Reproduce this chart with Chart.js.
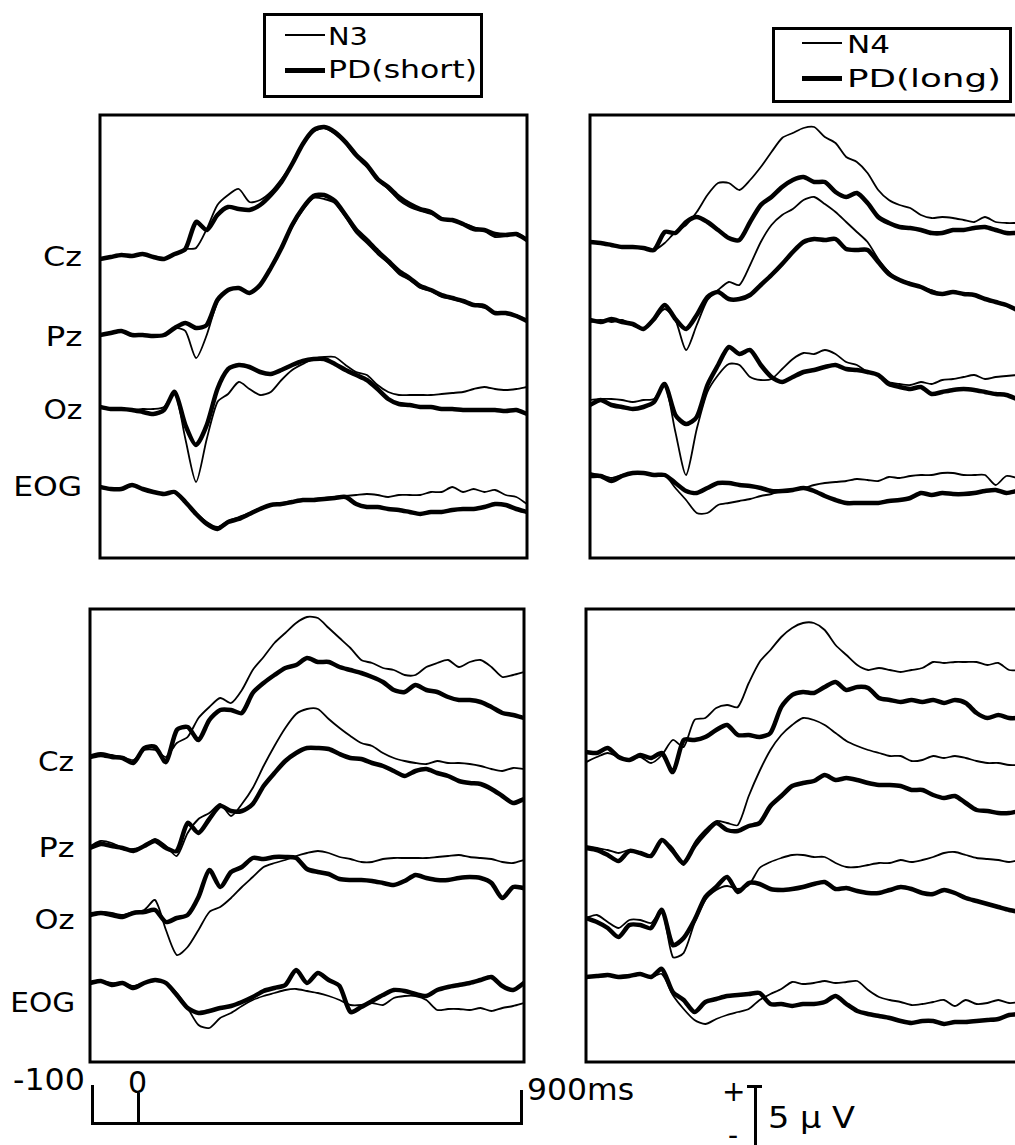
<!DOCTYPE html>
<html>
<head>
<meta charset="utf-8">
<script src="https://cdn.jsdelivr.net/npm/chart.js@4/dist/chart.umd.min.js"></script>
<style>
html, body { margin: 0; padding: 0; background: #fff; }
body { width: 1015px; height: 1145px; overflow: hidden; position: relative; font-family: "DejaVu Sans", sans-serif; color: #000; }
canvas { position: absolute; }
.t { position: absolute; white-space: nowrap; line-height: 1; }
.lab { font-size: 27px; transform-origin: right center; }
.num { font-size: 30px; transform-origin: left center; }
.leg { font-size: 25px; transform-origin: left center; }
.ln { position: absolute; background: #000; }
.box { position: absolute; border: 3px solid #000; box-sizing: border-box; }
</style>
</head>
<body>

<!-- legends -->
<div class="box" style="left:263px; top:13px; width:220px; height:85px;"></div>
<div class="ln" style="left:285px; top:34px; width:40px; height:2px;"></div>
<div class="ln" style="left:285px; top:68px; width:40px; height:5px;"></div>
<div class="t leg fit" data-w="40" style="left:328px; top:24px;">N3</div>
<div class="t leg fit" data-w="149" style="left:328px; top:57px;">PD(short)</div>

<div class="box" style="left:772px; top:27px; width:240px; height:76px;"></div>
<div class="ln" style="left:802px; top:42px; width:40px; height:2px;"></div>
<div class="ln" style="left:802px; top:76px; width:40px; height:5px;"></div>
<div class="t leg fit" data-w="43" style="left:847px; top:32px;">N4</div>
<div class="t leg fit" data-w="154" style="left:847px; top:66px;">PD(long)</div>

<!-- channel labels -->
<div class="t lab fit" data-w="39" style="right:933px; top:243px;">Cz</div>
<div class="t lab fit" data-w="37" style="right:933px; top:323px;">Pz</div>
<div class="t lab fit" data-w="39" style="right:933px; top:396px;">Oz</div>
<div class="t lab fit" data-w="69" style="right:933px; top:473px;">EOG</div>
<div class="t lab fit" data-w="36" style="right:941px; top:748px;">Cz</div>
<div class="t lab fit" data-w="36" style="right:941px; top:834px;">Pz</div>
<div class="t lab fit" data-w="40" style="right:941px; top:906px;">Oz</div>
<div class="t lab fit" data-w="65" style="right:940px; top:989px;">EOG</div>

<!-- time bar -->
<div class="t num fit" data-w="72" style="left:13px; top:1065px;">-100</div>
<div class="t num" style="left:128px; top:1068px;">0</div>
<div class="t num fit" data-w="107" style="left:527px; top:1075px;">900ms</div>
<div class="ln" style="left:91px; top:1085px; width:3px; height:40px;"></div>
<div class="ln" style="left:91px; top:1122px; width:432px; height:3px;"></div>
<div class="ln" style="left:520px; top:1090px; width:3px; height:35px;"></div>
<div class="ln" style="left:137px; top:1093px; width:3px; height:30px;"></div>

<!-- voltage bar -->
<div class="t" style="left:722px; top:1078px; font-size:28px;">+</div>
<div class="t" style="left:728px; top:1122px; font-size:28px;">-</div>
<div class="ln" style="left:754px; top:1086px; width:3px; height:60px;"></div>
<div class="ln" style="left:747px; top:1085px; width:15px; height:3px;"></div>
<div class="t num fit" data-w="87" style="left:768px; top:1103px;">5 μ V</div>

<script>
// sample times (ms)
const times = [-100, -75, -50, -25, 0, 25, 50, 75, 100, 125, 150, 175, 200, 225, 250, 275, 300, 325, 350, 375,
  400, 425, 450, 475, 500, 525, 550, 575, 600, 625, 650, 675, 700, 725, 750, 775, 800, 825, 850, 875, 900];

// top left: N3 (thin) vs PD short (thick), uV from channel baseline
const tlCzN3 = [-0.2, 0, 0.2, 0.1, 0.3, 0, -0.2, 0.3, 0.8, 0.9, 2.8, 5.2, 6.2, 6.8, 5.5, 5.7, 6.5, 7.8, 9.3, 11.2, 12.5, 12.9, 12.3, 11.3, 10.0, 9.0, 7.7, 6.8, 5.7, 5.0, 4.6, 4.3, 3.9, 3.6, 3.4, 3.0, 2.6, 2.0, 2.1, 2.4, 1.8];
const tlCzPD = [-0.2, 0, 0.2, 0.1, 0.3, 0, -0.2, 0.3, 0.8, 3.5, 2.7, 4.2, 5.0, 4.8, 4.7, 5.2, 6.2, 7.5, 9.3, 11.3, 12.7, 13.0, 12.5, 11.5, 10.2, 9.2, 7.8, 7.0, 6.0, 5.3, 4.8, 4.5, 3.8, 3.7, 3.3, 2.8, 2.7, 2.3, 2.2, 2.3, 1.7];
const tlPzN3 = [-0.2, 0, 0.2, -0.2, -0.2, -0.3, -0.2, 0.5, 0.2, -2.5, -0.2, 3.1, 4.3, 4.5, 4.0, 4.8, 6.4, 8.4, 10.6, 12.3, 13.5, 13.4, 13.0, 11.6, 10.0, 9.0, 7.9, 7.0, 5.9, 5.3, 4.5, 4.2, 3.6, 3.4, 3.1, 2.8, 2.5, 2.1, 1.9, 1.8, 1.3];
const tlPzPD = [-0.2, 0, 0.2, -0.2, -0.2, -0.3, -0.2, 0.5, 1.0, 0.5, 0.8, 3.3, 4.3, 4.5, 4.0, 4.8, 6.5, 8.5, 10.8, 12.5, 13.7, 13.8, 13.2, 11.8, 10.3, 9.3, 8.2, 7.2, 6.2, 5.5, 4.7, 4.3, 3.8, 3.5, 3.2, 2.8, 2.7, 2.0, 2.0, 1.7, 1.2];
const tlOzN3 = [0, -0.2, -0.2, -0.3, -0.2, -0.2, 0, 1.5, -3.2, -7.5, -3.2, 0.5, 1.3, 2.5, 1.8, 1.2, 1.5, 2.7, 3.7, 4.3, 4.8, 5.0, 5.0, 4.2, 3.5, 3.2, 2.2, 1.5, 1.2, 1.2, 1.2, 1.2, 1.3, 1.4, 1.5, 1.8, 2.0, 1.8, 1.7, 1.8, 2.0];
const tlOzPD = [0, -0.2, -0.2, -0.3, -0.5, -0.7, -0.3, 1.5, -1.8, -3.8, -1.8, 1.8, 3.8, 4.2, 4.0, 3.5, 3.3, 3.7, 4.2, 4.6, 4.8, 4.8, 4.3, 3.7, 3.2, 2.7, 1.8, 0.8, 0.3, 0.2, 0, 0, -0.2, -0.2, -0.3, -0.3, -0.3, -0.3, -0.4, -0.3, -0.7];
const tlEogN3 = [0, -0.2, -0.2, 0.2, -0.2, -0.5, -0.7, -0.5, -1.5, -2.6, -3.5, -4.0, -3.4, -3.0, -2.6, -2.1, -1.8, -1.6, -1.4, -1.3, -1.2, -1.1, -1.0, -0.9, -0.8, -0.7, -0.8, -1.0, -0.8, -0.8, -0.8, -0.5, -0.5, 0, -0.5, -0.2, -0.5, -0.3, -0.8, -1.0, -1.7];
const tlEogPD = [0, -0.2, -0.2, 0.2, -0.2, -0.5, -0.7, -0.5, -1.5, -2.7, -3.7, -4.2, -3.5, -3.2, -2.7, -2.2, -1.8, -1.7, -1.5, -1.3, -1.3, -1.2, -1.1, -1.0, -1.7, -2.0, -2.0, -2.2, -2.3, -2.5, -2.7, -2.5, -2.5, -2.3, -2.2, -2.2, -2.0, -1.7, -1.8, -2.2, -2.5];

// top right: N4 (thin) vs PD long (thick)
const trCzN4 = [0.3, 0.2, 0, -0.2, -0.2, -0.3, -0.5, 0.2, 1.3, 2.0, 3.3, 5.0, 6.2, 6.2, 5.5, 6.5, 7.8, 9.3, 10.7, 11.2, 11.7, 11.8, 10.8, 10.2, 8.8, 8.3, 7.2, 5.5, 4.5, 4.0, 3.7, 3.0, 2.7, 2.8, 2.7, 2.5, 2.3, 2.8, 2.3, 2.2, 2.2];
const trCzPD = [0.3, 0.2, 0, -0.2, -0.2, -0.3, -0.5, 1.3, 1.2, 2.3, 2.8, 2.3, 1.5, 0.7, 0.5, 2.3, 4.0, 4.8, 5.8, 6.5, 6.8, 6.3, 6.3, 5.3, 4.8, 5.2, 4.2, 2.8, 2.2, 1.8, 1.7, 1.5, 1.2, 1.2, 1.5, 1.5, 1.7, 1.8, 1.5, 1.2, 1.2];
const trPzN4 = [0, 0.2, 0, 0.2, -0.3, -0.7, 0.2, 1.3, 0.2, -2.8, -0.3, 2.2, 3.2, 4.0, 3.7, 5.7, 8.0, 9.7, 10.7, 11.3, 12.2, 12.5, 11.8, 11.0, 10.0, 9.0, 8.0, 6.3, 5.0, 4.2, 3.9, 3.5, 3.2, 2.8, 3.1, 2.8, 2.8, 2.3, 2.1, 1.7, 1.3];
const trPzPD = [0.2, 0, 0.3, 0, -0.2, -0.7, 0.3, 1.7, 0.3, -0.7, 0.7, 2.5, 3.0, 2.3, 2.3, 2.7, 3.7, 4.7, 5.8, 7.0, 8.0, 8.3, 8.2, 8.3, 7.3, 7.2, 7.2, 6.0, 4.8, 4.2, 3.8, 3.5, 3.0, 2.8, 3.0, 2.8, 2.7, 2.3, 2.0, 1.7, 1.2];
const trOzN4 = [0.2, 0.3, 0.3, 0.2, 0, 0.2, 0.3, 1.8, -3.0, -7.3, -2.7, 1.0, 2.7, 3.8, 3.7, 2.5, 2.2, 2.3, 3.3, 4.3, 4.9, 4.8, 5.2, 4.8, 4.0, 3.7, 3.0, 2.7, 2.0, 1.8, 1.7, 2.0, 1.8, 2.2, 2.3, 2.5, 2.7, 2.3, 2.5, 2.6, 2.7];
const trOzPD = [-0.3, 0.2, -0.3, -0.5, -0.7, -0.5, 0, 1.8, -1.3, -2.2, -1.5, 1.7, 3.7, 5.5, 4.8, 5.2, 3.7, 2.5, 2.0, 2.5, 3.0, 3.2, 3.5, 3.7, 3.3, 3.2, 3.0, 2.7, 1.8, 1.5, 1.3, 1.5, 0.8, 1.0, 1.2, 1.3, 1.2, 1.0, 0.8, 0.7, 0.3];
const trEogN4 = [0.5, 0.3, 0, 0.3, 0.5, 0.5, 0.3, 0.3, -1.0, -2.2, -3.5, -3.5, -2.7, -2.5, -2.3, -2.1, -1.8, -1.6, -1.3, -1.2, -1.0, -0.7, -0.5, -0.4, -0.3, -0.1, -0.2, -0.3, 0.1, 0, 0.2, 0.3, 0.3, 0.5, 0.5, 0.3, 0.3, 0.3, -0.7, 0.2, 0];
const trEogPD = [0.2, 0.2, -0.3, 0.2, 0.5, 0.5, 0.3, 0.3, -0.5, -1.3, -1.5, -1.0, -0.5, -0.5, -0.7, -0.8, -1.0, -1.3, -1.3, -1.2, -1.0, -1.3, -1.8, -2.2, -2.5, -2.5, -2.5, -2.5, -2.3, -2.2, -2.0, -1.5, -1.7, -1.5, -1.6, -1.6, -1.5, -1.3, -1.2, -1.5, -1.3];

// bottom left: N3 (thin) vs PD short (thick)
const blCzN3 = [0, 0.2, 0, -0.2, -0.5, 0.5, 0.5, -0.2, 1.2, 1.8, 3.7, 4.8, 5.7, 5.2, 6.5, 8.5, 9.8, 11.2, 12.2, 13.2, 13.8, 13.7, 12.7, 11.7, 10.7, 9.5, 9.2, 8.7, 8.5, 8.0, 8.0, 8.8, 9.2, 9.5, 8.8, 9.3, 9.5, 8.8, 7.8, 8.0, 8.3];
const blCzPD = [-0.2, 0, -0.2, -0.3, -0.8, 0.7, 0.8, -0.7, 2.5, 2.8, 1.5, 3.5, 4.5, 4.5, 4.2, 6.2, 7.2, 8.0, 8.7, 9.0, 9.7, 9.3, 9.3, 8.8, 8.5, 8.2, 7.8, 7.3, 6.5, 6.3, 7.0, 6.5, 6.3, 5.8, 5.5, 5.5, 5.3, 4.8, 4.2, 4.0, 3.7];
const blPzN3 = [0, 0.5, 0.3, -0.2, -0.3, 0, 0.7, 0, -1.0, 1.3, 2.7, 3.3, 4.2, 3.0, 4.2, 5.8, 8.0, 10.0, 11.8, 13.2, 13.7, 13.7, 12.7, 11.8, 11.0, 10.3, 10.0, 9.3, 8.8, 8.5, 8.3, 8.2, 8.5, 8.3, 8.3, 8.2, 8.0, 7.7, 7.5, 7.8, 7.7];
const blPzPD = [-0.2, 0.2, 0, -0.2, -0.5, 0, 0.5, -0.2, -0.5, 2.3, 1.3, 2.7, 4.0, 3.5, 3.5, 4.2, 6.0, 7.3, 8.5, 9.3, 9.8, 9.8, 9.7, 9.2, 8.8, 8.7, 8.3, 8.0, 7.5, 7.0, 7.5, 7.7, 7.3, 7.0, 6.5, 6.3, 6.2, 5.7, 5.0, 4.3, 4.7];
const blOzN3 = [0.2, 0.3, 0.2, 0, 0.3, 0.5, 1.5, -1.5, -4.0, -3.2, -1.5, 0.3, 0.8, 1.7, 2.8, 3.8, 4.8, 5.2, 5.5, 5.9, 6.2, 6.4, 6.2, 5.8, 5.6, 5.3, 5.3, 5.6, 5.7, 5.7, 5.7, 5.7, 5.8, 5.9, 6.0, 5.8, 5.7, 5.6, 5.3, 5.2, 5.5];
const blOzPD = [0, 0.2, 0, -0.2, 0.2, 0.3, 0.5, -0.7, -0.3, 0, 1.8, 4.5, 2.8, 4.3, 4.8, 5.7, 5.6, 5.8, 5.8, 5.7, 4.6, 4.3, 4.1, 3.6, 3.5, 3.5, 3.4, 3.2, 3.0, 3.4, 4.0, 3.7, 3.5, 3.5, 3.7, 3.8, 3.7, 3.2, 1.7, 2.8, 2.7];
const blEogN3 = [0, 0.2, 0, 0, -0.3, 0, 0.2, 0, -1.0, -2.5, -4.2, -4.5, -3.5, -3.0, -2.3, -1.7, -1.3, -1.0, -0.7, -0.6, -0.8, -1.0, -1.3, -1.7, -2.2, -2.2, -2.0, -2.2, -1.5, -1.3, -1.3, -1.7, -2.7, -2.6, -2.6, -2.7, -2.5, -2.8, -2.5, -2.3, -2.0];
const blEogPD = [0, 0.2, -0.2, 0, -0.5, 0, 0.3, 0, -1.2, -2.5, -3.0, -2.8, -2.5, -2.3, -1.9, -1.4, -0.8, -0.5, -0.2, 1.3, 0, 1.0, 0.3, -0.3, -2.9, -2.4, -1.8, -1.2, -0.7, -0.8, -1.1, -1.3, -0.7, -0.4, -0.2, 0, 0.3, 0.6, -0.3, -0.7, 0];

// bottom right: N4 (thin) vs PD long (thick)
const brCzN4 = [-0.7, -0.2, 0.2, -0.2, -0.5, -0.2, -0.8, 0, 1.5, 0.8, 3.5, 3.7, 4.7, 5.0, 4.8, 7.2, 9.3, 10.5, 11.8, 12.7, 13.2, 13.2, 12.5, 11.0, 10.0, 9.0, 8.5, 8.7, 8.5, 8.3, 8.5, 8.7, 9.3, 9.2, 9.3, 9.3, 9.3, 9.0, 9.2, 8.5, 8.5];
const brCzPD = [0.3, 0.2, 0.7, -0.2, -0.5, 0, -0.3, 0.2, -1.7, 1.5, 1.5, 1.8, 2.5, 3.0, 2.0, 2.0, 1.8, 2.2, 4.8, 6.0, 6.3, 6.2, 6.8, 7.3, 6.5, 6.8, 6.7, 5.7, 5.5, 5.3, 5.5, 5.3, 5.5, 5.2, 5.5, 5.2, 4.2, 3.7, 4.0, 3.7, 3.7];
const brPzN4 = [0.2, 0, -0.2, -0.5, -0.2, -0.5, -0.7, 0.7, 0, -1.7, 0.5, 1.8, 2.7, 2.5, 2.3, 5.2, 7.7, 9.8, 11.3, 12.3, 13.0, 12.8, 12.3, 11.5, 10.7, 10.2, 9.8, 9.5, 9.2, 9.2, 8.7, 8.8, 9.2, 9.0, 9.2, 9.0, 8.7, 8.5, 8.5, 8.3, 8.3];
const brPzPD = [0, -0.2, -0.7, -1.3, -0.3, -0.5, -0.8, 0.8, -0.3, -1.5, 0.2, 1.5, 2.5, 1.8, 1.7, 2.2, 2.5, 4.2, 5.2, 6.2, 6.5, 6.7, 7.3, 6.8, 7.0, 6.8, 6.5, 6.3, 6.3, 6.2, 5.8, 5.8, 5.3, 5.0, 5.2, 4.5, 3.8, 3.7, 3.5, 3.5, 3.7];
const brOzN4 = [0.2, 0.5, -0.2, -0.8, 0, 0, -0.3, 1.0, -3.7, -3.3, -0.3, 2.0, 3.0, 3.4, 3.1, 3.5, 5.2, 5.8, 6.2, 6.5, 6.5, 6.3, 6.3, 5.7, 5.3, 5.3, 5.5, 5.7, 5.7, 6.0, 5.8, 6.0, 6.3, 6.7, 6.8, 6.5, 6.2, 6.1, 6.0, 5.8, 6.0];
const brOzPD = [0.2, -0.2, -0.8, -1.7, -0.5, -0.5, -0.8, 1.0, -2.5, -1.8, 0, 2.3, 3.3, 4.3, 2.8, 3.7, 3.6, 3.1, 3.0, 3.1, 3.3, 3.6, 3.8, 3.1, 3.2, 2.9, 2.7, 2.7, 3.0, 3.3, 3.1, 2.7, 2.6, 3.0, 2.7, 2.2, 1.9, 1.6, 1.3, 1.0, 0.8];
const brEogN4 = [0, 0, 0.1, 0.1, 0.2, 0.2, 0, 0.3, -1.8, -3.2, -4.3, -4.7, -4.2, -3.8, -3.5, -3.2, -2.3, -1.7, -1.2, -0.5, -0.7, -0.6, -0.4, -0.6, -0.5, -0.4, -1.3, -2.0, -2.3, -2.5, -2.8, -2.7, -2.5, -2.3, -2.9, -2.3, -2.7, -2.6, -2.3, -2.6, -2.5];
const brEogPD = [0, 0.1, 0.2, 0, 0.1, 0.3, 0, 0.8, -1.5, -2.3, -3.5, -2.5, -2.2, -1.9, -1.8, -1.7, -1.6, -2.7, -2.7, -2.9, -2.7, -2.7, -2.5, -1.9, -2.7, -3.4, -3.7, -3.9, -4.1, -4.4, -4.6, -4.4, -4.4, -4.7, -4.5, -4.5, -4.4, -4.3, -4.2, -3.8, -3.7];

// layout: panel boxes (px) and channel baselines (uV below panel top, 10px per uV)
const PX_PER_UV = 10;
const panels = [
  { box: { left: 100, top: 115, width: 427, height: 443 }, base: [14.2, 21.8, 29.2, 37.2],
    thin: [tlCzN3, tlPzN3, tlOzN3, tlEogN3], thick: [tlCzPD, tlPzPD, tlOzPD, tlEogPD] },
  { box: { left: 590, top: 115, width: 427, height: 443 }, base: [13.0, 20.7, 28.7, 36.3],
    thin: [trCzN4, trPzN4, trOzN4, trEogN4], thick: [trCzPD, trPzPD, trOzPD, trEogPD] },
  { box: { left: 90, top: 609, width: 434, height: 453 }, base: [14.6, 23.7, 30.6, 37.4],
    thin: [blCzN3, blPzN3, blOzN3, blEogN3], thick: [blCzPD, blPzPD, blOzPD, blEogPD] },
  { box: { left: 586, top: 609, width: 434, height: 453 }, base: [14.6, 23.9, 31.1, 36.8],
    thin: [brCzN4, brPzN4, brOzN4, brEogN4], thick: [brCzPD, brPzPD, brOzPD, brEogPD] }
];

// black frame round the plot area
const framePlugin = {
  id: 'frame',
  afterDatasetsDraw(chart) {
    const a = chart.chartArea, ctx = chart.ctx;
    ctx.save();
    ctx.strokeStyle = '#000';
    ctx.lineWidth = 3;
    ctx.strokeRect(a.left, a.top, a.right - a.left, a.bottom - a.top);
    ctx.restore();
  }
};

function toPoints(vals, base) {
  return times.map((t, i) => ({ x: t, y: vals[i] - base }));
}

function drawPanel(p) {
  const pad = 4;
  const cv = document.createElement('canvas');
  cv.width = p.box.width + pad * 2;
  cv.height = p.box.height + pad * 2;
  cv.style.left = (p.box.left - pad) + 'px';
  cv.style.top = (p.box.top - pad) + 'px';
  document.body.appendChild(cv);

  const datasets = [];
  for (let c = 0; c < 4; c++) {
    datasets.push({ data: toPoints(p.thin[c], p.base[c]), borderWidth: 1.8 });
    datasets.push({ data: toPoints(p.thick[c], p.base[c]), borderWidth: 4.5 });
  }

  new Chart(cv, {
    type: 'line',
    data: { datasets: datasets },
    options: {
      responsive: false,
      animation: false,
      layout: { padding: pad },
      scales: {
        x: { type: 'linear', min: -100, max: 900, display: false },
        y: { min: -p.box.height / PX_PER_UV, max: 0, display: false }
      },
      elements: {
        point: { radius: 0 },
        line: { tension: 0.25, borderColor: '#000', borderJoinStyle: 'round', borderCapStyle: 'round', fill: false }
      },
      plugins: { legend: { display: false }, tooltip: { enabled: false } }
    },
    plugins: [framePlugin]
  });
}

panels.forEach(drawPanel);

// stretch the text a bit so it is as wide as in the scan
document.querySelectorAll('.fit').forEach(el => {
  const w = el.getBoundingClientRect().width;
  const target = Number(el.dataset.w);
  if (w > 0) el.style.transform = 'scaleX(' + (target / w).toFixed(3) + ')';
});
</script>
</body>
</html>
